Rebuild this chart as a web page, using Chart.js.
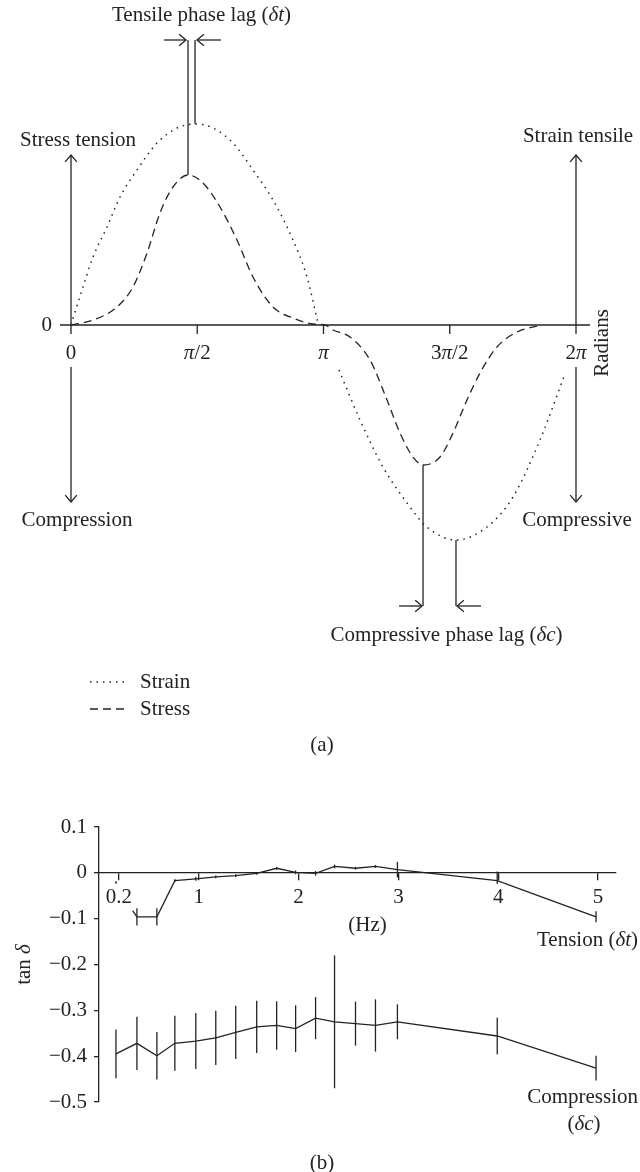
<!DOCTYPE html>
<html>
<head>
<meta charset="utf-8">
<script src="https://cdn.jsdelivr.net/npm/chart.js@4.4.1/dist/chart.umd.min.js"></script>
<style>
  html, body { margin: 0; padding: 0; background: #fff; }
  #wrap { position: relative; width: 640px; height: 1172px; }
  canvas { position: absolute; left: 0; }
  #phase-chart { top: 0; }
  #tan-chart { top: 780px; }
</style>
</head>
<body>
<div id="wrap">
  <canvas id="phase-chart" width="640" height="780"></canvas>
  <canvas id="tan-chart" width="640" height="392"></canvas>
</div>
<script>
// (a) one cycle, x in radians, y in relative amplitude (null = gap in the dotted line)
const strainRad = [0, 0.149, 0.274, 0.448, 0.610, 0.821, 1.070, 1.319, 1.543, 1.767, 2.015, 2.264, 2.513, 2.762, 2.936, 3.073, 3.2, 3.334, 3.596, 3.882, 4.181, 4.429, 4.790, 5.176, 5.499, 5.835, 6.146];
const strainAmp = [0, 0.38, 0.68, 0.98, 1.28, 1.55, 1.82, 1.97, 2.01, 1.97, 1.82, 1.55, 1.25, 0.85, 0.48, 0.02, null, -0.45, -0.95, -1.42, -1.78, -2.02, -2.15, -2.02, -1.72, -1.15, -0.49];
const stressRad = [0, 0.274, 0.572, 0.771, 0.946, 1.107, 1.269, 1.456, 1.642, 1.854, 2.065, 2.264, 2.513, 2.762, 3.011, 3.160, 3.260, 3.471, 3.720, 3.932, 4.093, 4.255, 4.380, 4.591, 4.753, 4.927, 5.089, 5.300, 5.549, 5.860];
const stressAmp = [0, 0.05, 0.18, 0.38, 0.72, 1.12, 1.38, 1.50, 1.42, 1.18, 0.85, 0.48, 0.18, 0.07, 0.01, 0, -0.05, -0.12, -0.35, -0.75, -1.08, -1.32, -1.40, -1.32, -1.08, -0.75, -0.48, -0.22, -0.07, 0];
const radianTicks = [0, Math.PI / 2, Math.PI, 3 * Math.PI / 2, 2 * Math.PI];
const radianLabels = [[['0', false]], [['π', true], ['/2', false]], [['π', true]], [['3', false], ['π', true], ['/2', false]], [['2', false], ['π', true]]];

// (b) tan δ against frequency
const freqHz = [0.17, 0.38, 0.58, 0.76, 0.97, 1.17, 1.37, 1.58, 1.78, 1.97, 2.17, 2.36, 2.57, 2.77, 2.99, 3.99, 4.98];
const tensionTan = [-0.030, -0.096, -0.096, -0.017, -0.013, -0.009, -0.006, -0.001, 0.010, 0.001, -0.001, 0.014, 0.010, 0.014, 0.007, -0.017, -0.096];
const tensionErr = [0.012, 0.019, 0.019, 0.003, 0.004, 0.003, 0.003, 0.003, 0.003, 0.004, 0.005, 0.004, 0.003, 0.003, 0.017, 0.020, 0.012];
const compressionTan = [-0.395, -0.372, -0.399, -0.372, -0.367, -0.360, -0.348, -0.336, -0.333, -0.340, -0.317, -0.325, -0.329, -0.333, -0.325, -0.356, -0.426];
const compressionErr = [0.053, 0.058, 0.052, 0.060, 0.061, 0.059, 0.058, 0.057, 0.053, 0.051, 0.046, 0.145, 0.048, 0.057, 0.038, 0.040, 0.027];
const hzTicks = [0.2, 1, 2, 3, 4, 5];

const INK = '#232323';
const SERIF = '"Liberation Serif", "DejaVu Serif", serif';
const FONT_SIZE = 21;
Chart.defaults.font.family = SERIF;
Chart.defaults.font.size = FONT_SIZE;
Chart.defaults.color = INK;

function setFont(ctx, italic) {
    ctx.font = (italic ? 'italic ' : '') + FONT_SIZE + 'px ' + SERIF;
}

// text made of [string, italic] parts
function drawText(ctx, parts, x, y, align) {
    let width = 0;
    parts.forEach(p => { setFont(ctx, p[1]); width += ctx.measureText(p[0]).width; });
    let cx = align === 'left' ? x : (align === 'right' ? x - width : x - width / 2);
    ctx.textAlign = 'left';
    ctx.textBaseline = 'middle';
    parts.forEach(p => {
        setFont(ctx, p[1]);
        ctx.fillText(p[0], cx, y);
        cx += ctx.measureText(p[0]).width;
    });
}

function drawLine(ctx, x1, y1, x2, y2) {
    ctx.beginPath();
    ctx.moveTo(x1, y1);
    ctx.lineTo(x2, y2);
    ctx.stroke();
}

// open arrow head at (x2, y2)
function drawArrow(ctx, x1, y1, x2, y2) {
    const a = Math.atan2(y2 - y1, x2 - x1);
    const h = 9, s = 0.7;
    drawLine(ctx, x1, y1, x2, y2);
    ctx.beginPath();
    ctx.moveTo(x2 - h * Math.cos(a - s), y2 - h * Math.sin(a - s));
    ctx.lineTo(x2, y2);
    ctx.lineTo(x2 - h * Math.cos(a + s), y2 - h * Math.sin(a + s));
    ctx.stroke();
}

function toPoints(xs, ys) {
    return xs.map((v, i) => ({ x: v, y: ys[i] }));
}

function extremeIndex(values, sign) {
    let best = -1;
    values.forEach((v, i) => {
        if (v !== null && (best < 0 || sign * v > sign * values[best])) best = i;
    });
    return best;
}

// decorations of (a)
const phaseDecor = {
    id: 'phaseDecor',
    afterDatasetsDraw(chart) {
        const { ctx, scales: { x, y } } = chart;
        const y0 = y.getPixelForValue(0);
        const xl = x.getPixelForValue(0);
        const xr = x.getPixelForValue(2 * Math.PI);
        ctx.save();
        ctx.strokeStyle = INK;
        ctx.fillStyle = INK;
        ctx.lineWidth = 1.3;

        // radians axis
        drawLine(ctx, xl - 11, y0, xr + 14, y0);
        radianTicks.forEach((t, i) => {
            const px = x.getPixelForValue(t);
            if (i > 0 && i < radianTicks.length - 1) drawLine(ctx, px, y0, px, y0 + 9);
            drawText(ctx, radianLabels[i], px, y0 + 28, 'center');
        });
        drawText(ctx, [['0', false]], xl - 19, y0, 'right');
        ctx.save();
        ctx.translate(xr + 26, y0 + 18);
        ctx.rotate(-Math.PI / 2);
        drawText(ctx, [['Radians', false]], 0, 0, 'center');
        ctx.restore();

        // tension / compression arrows at both ends
        const upTip = y.getPixelForValue(1.7);
        const downTip = y.getPixelForValue(-1.77);
        [xl, xr].forEach(px => {
            drawArrow(ctx, px, y0 + 9, px, upTip);
            drawArrow(ctx, px, y0 + 42, px, downTip);
        });
        drawText(ctx, [['Stress tension', false]], xl + 7, upTip - 15, 'center');
        drawText(ctx, [['Strain tensile', false]], xr + 2, upTip - 19, 'center');
        drawText(ctx, [['Compression', false]], xl + 6, downTip + 18, 'center');
        drawText(ctx, [['Compressive', false]], xr + 1, downTip + 18, 'center');

        // tensile phase lag between the two peaks
        const sTop = extremeIndex(stressAmp, 1), eTop = extremeIndex(strainAmp, 1);
        const sx = x.getPixelForValue(stressRad[sTop]), ex = x.getPixelForValue(strainRad[eTop]);
        const topY = y.getPixelForValue(2.85);
        drawLine(ctx, sx, y.getPixelForValue(stressAmp[sTop]), sx, topY);
        drawLine(ctx, ex, y.getPixelForValue(strainAmp[eTop]), ex, topY);
        drawArrow(ctx, sx - 24, topY, sx - 2, topY);
        drawArrow(ctx, ex + 26, topY, ex + 2, topY);
        drawText(ctx, [['Tensile phase lag (', false], ['δt', true], [')', false]], (sx + ex) / 2 + 10, topY - 25, 'center');

        // compressive phase lag between the two troughs
        const sLow = extremeIndex(stressAmp, -1), eLow = extremeIndex(strainAmp, -1);
        const lx = x.getPixelForValue(stressRad[sLow]), rx = x.getPixelForValue(strainRad[eLow]);
        const botY = y.getPixelForValue(-2.81);
        drawLine(ctx, lx, y.getPixelForValue(stressAmp[sLow]), lx, botY);
        drawLine(ctx, rx, y.getPixelForValue(strainAmp[eLow]), rx, botY);
        drawArrow(ctx, lx - 24, botY, lx - 1, botY);
        drawArrow(ctx, rx + 25, botY, rx + 1, botY);
        drawText(ctx, [['Compressive phase lag (', false], ['δc', true], [')', false]], (lx + rx) / 2 + 7, botY + 29, 'center');

        // legend
        chart.data.datasets.forEach((ds, i) => {
            const ly = 682 + 27 * i;
            ctx.save();
            ctx.lineWidth = ds.borderWidth;
            ctx.setLineDash(ds.borderDash);
            drawLine(ctx, 90, ly, 125, ly);
            ctx.restore();
            drawText(ctx, [[ds.label, false]], 140, ly, 'left');
        });
        drawText(ctx, [['(a)', false]], 322, 745, 'center');
        ctx.restore();
    }
};

new Chart(document.getElementById('phase-chart'), {
    type: 'scatter',
    data: {
        datasets: [{
            label: 'Strain',
            data: toPoints(strainRad, strainAmp),
            showLine: true,
            borderColor: INK,
            borderWidth: 1.5,
            borderDash: [1.5, 5],
            pointRadius: 0,
            cubicInterpolationMode: 'monotone',
            spanGaps: false
        }, {
            label: 'Stress',
            data: toPoints(stressRad, stressAmp),
            showLine: true,
            borderColor: INK,
            borderWidth: 1.3,
            borderDash: [8, 5],
            pointRadius: 0,
            cubicInterpolationMode: 'monotone'
        }]
    },
    options: {
        responsive: false,
        animation: false,
        devicePixelRatio: 1,
        layout: { padding: { left: 71, right: 64, top: 25, bottom: 155 } },
        scales: {
            x: { type: 'linear', min: 0, max: 2 * Math.PI, display: false },
            y: { type: 'linear', min: -3, max: 3, display: false }
        },
        plugins: { legend: { display: false }, tooltip: { enabled: false } }
    },
    plugins: [phaseDecor]
});

// error bars and labels of (b)
const tanDecor = {
    id: 'tanDecor',
    afterDatasetsDraw(chart) {
        const { ctx, scales: { x, y } } = chart;
        ctx.save();
        ctx.strokeStyle = INK;
        ctx.lineWidth = 1.3;
        chart.data.datasets.forEach(ds => {
            ds.data.forEach((p, i) => {
                const px = x.getPixelForValue(p.x);
                drawLine(ctx, px, y.getPixelForValue(p.y - ds.errors[i]), px, y.getPixelForValue(p.y + ds.errors[i]));
            });
        });
        ctx.restore();
    },
    afterDraw(chart) {
        const { ctx, scales: { x, y } } = chart;
        const y0 = y.getPixelForValue(0);
        const lastT = y.getPixelForValue(tensionTan[tensionTan.length - 1]);
        const lastC = y.getPixelForValue(compressionTan[compressionTan.length - 1]);
        ctx.save();
        ctx.fillStyle = INK;
        drawText(ctx, [['(Hz)', false]], x.getPixelForValue(2.69), y0 + 53, 'center');
        drawText(ctx, [['Tension (', false], ['δt', true], [')', false]], 638, lastT + 24, 'right');
        drawText(ctx, [['Compression', false]], 638, lastC + 29, 'right');
        drawText(ctx, [['(', false], ['δc', true], [')', false]], 584, lastC + 56, 'center');
        drawText(ctx, [['(b)', false]], 322, 383, 'center');
        ctx.translate(24, y.getPixelForValue(-0.2));
        ctx.rotate(-Math.PI / 2);
        drawText(ctx, [['tan ', false], ['δ', true]], 0, 0, 'center');
        ctx.restore();
    }
};

new Chart(document.getElementById('tan-chart'), {
    type: 'scatter',
    data: {
        datasets: [{
            label: 'Tension (δt)',
            data: toPoints(freqHz, tensionTan),
            errors: tensionErr,
            showLine: true,
            borderColor: INK,
            borderWidth: 1.3,
            pointRadius: 0,
            tension: 0
        }, {
            label: 'Compression (δc)',
            data: toPoints(freqHz, compressionTan),
            errors: compressionErr,
            showLine: true,
            borderColor: INK,
            borderWidth: 1.3,
            pointRadius: 0,
            tension: 0
        }]
    },
    options: {
        responsive: false,
        animation: false,
        devicePixelRatio: 1,
        layout: { padding: { left: 0, right: 24, top: 47, bottom: 70 } },
        scales: {
            x: {
                type: 'linear',
                position: { y: 0 },
                min: 0,
                max: 5.18,
                afterBuildTicks: scale => { scale.ticks = hzTicks.map(v => ({ value: v })); },
                ticks: {
                    callback: v => String(v),
                    autoSkip: false,
                    maxRotation: 0,
                    padding: 5,
                    z: 1,
                    showLabelBackdrop: true,
                    backdropColor: '#fff',
                    backdropPadding: 1
                },
                grid: { drawOnChartArea: false, drawTicks: true, tickLength: 7, color: INK, lineWidth: 1.3 },
                border: { display: true, color: INK, width: 1.3 }
            },
            y: {
                type: 'linear',
                position: 'left',
                min: -0.5,
                max: 0.1,
                afterFit: scale => { scale.width = 99; },
                ticks: {
                    stepSize: 0.1,
                    padding: 7,
                    callback: v => (Math.abs(v) < 1e-9 ? '0' : v.toFixed(1).replace('-', '\u2212'))
                },
                grid: { drawOnChartArea: false, drawTicks: true, tickLength: 5, color: INK, lineWidth: 1.3 },
                border: { display: true, color: INK, width: 1.3 }
            }
        },
        plugins: { legend: { display: false }, tooltip: { enabled: false } }
    },
    plugins: [tanDecor]
});
</script>
</body>
</html>
